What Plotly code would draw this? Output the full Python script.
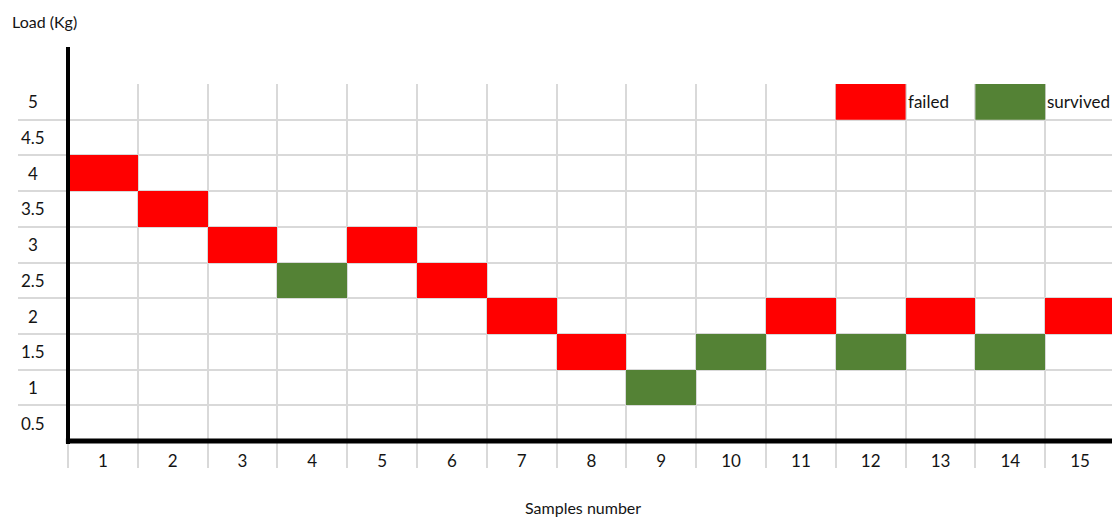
import plotly.graph_objects as go

# ---- data ----
SAMPLES = list(range(1, 16))
LOADS = [4, 3.5, 3, 2.5, 3, 2.5, 2, 1.5, 1, 1.5, 2, 1.5, 2, 1.5, 2]
OUTCOME = ["failed", "failed", "failed", "survived", "failed", "failed", "failed",
           "failed", "survived", "survived", "failed", "survived", "failed",
           "survived", "failed"]
Y_TICKS = [0.5, 1, 1.5, 2, 2.5, 3, 3.5, 4, 4.5, 5]
Y_TICK_TEXT = ["0.5", "1", "1.5", "2", "2.5", "3", "3.5", "4", "4.5", "5"]
X_TICK_TEXT = [str(s) for s in SAMPLES]
CATEGORIES = ["failed", "survived"]

# ---- style ----
COLORS = {"failed": "#FF0000", "survived": "#548235"}
GRID = "#D9D9D9"
TXT = "#141414"
FONT = "Lato, Open Sans, sans-serif"
FS = 17
FS_TITLE = 16
STEP = Y_TICKS[1] - Y_TICKS[0]
LEGEND_ROW = 5
LEGEND_COL = {"failed": 12, "survived": 14}

W, H = 1112, 523
ML, MR, MT, MB = 18, 0, 84, 82
COLW = 69.8
plot_w = W - ML - MR
x_lo = SAMPLES[0] - 0.5 - (68 - ML) / COLW
x_hi = x_lo + plot_w / COLW
y_lo = Y_TICKS[0] - STEP / 2
y_hi = Y_TICKS[-1] + STEP / 2
plot_h = H - MT - MB

fig = go.Figure()
for cat in CATEGORIES:
    xs = [s for s, o in zip(SAMPLES, OUTCOME) if o == cat]
    ys = [l for l, o in zip(LOADS, OUTCOME) if o == cat]
    fig.add_trace(go.Bar(
        x=xs, y=[STEP] * len(xs), base=[v - STEP / 2 for v in ys],
        width=1, name=cat, marker=dict(color=COLORS[cat], line=dict(width=0)),
        showlegend=False,
    ))

shapes = []
annotations = []
# legend boxes + text
for cat in CATEGORIES:
    c = LEGEND_COL[cat]
    shapes.append(dict(type="rect", xref="x", yref="y", x0=c - 0.5, x1=c + 0.5,
                       y0=LEGEND_ROW - STEP / 2, y1=LEGEND_ROW + STEP / 2,
                       fillcolor=COLORS[cat], line=dict(width=0), layer="above"))
    annotations.append(dict(xref="x", yref="y", x=c + 0.5, y=LEGEND_ROW, text=cat,
                            xanchor="left", yanchor="middle", showarrow=False,
                            xshift=0, font=dict(size=FS, color=TXT, family=FONT)))
# axis lines
x0_axis = SAMPLES[0] - 0.5
shapes.append(dict(type="line", xref="x", yref="paper", x0=x0_axis, x1=x0_axis,
                   y0=-3 / plot_h, y1=1 + 37 / plot_h, line=dict(color="black", width=4)))
shapes.append(dict(type="line", xref="x", yref="paper", x0=x0_axis - 0.03, x1=x_hi,
                   y0=0, y1=0, line=dict(color="black", width=5)))
# y tick labels
for v, t in zip(Y_TICKS, Y_TICK_TEXT):
    annotations.append(dict(xref="x", yref="y", x=x0_axis - 35 / COLW, y=v, text=t,
                            showarrow=False, xanchor="center", yanchor="middle",
                            font=dict(size=FS, color=TXT, family=FONT)))
# titles
annotations.append(dict(xref="paper", yref="paper", x=(10 - ML) / plot_w,
                        y=1 + (MT - 22) / plot_h, text="Load (Kg)", showarrow=False,
                        xanchor="left", yanchor="middle",
                        font=dict(size=FS_TITLE, color=TXT, family=FONT)))
annotations.append(dict(xref="paper", yref="paper", x=(583 - ML) / plot_w,
                        y=-(507 - (H - MB)) / plot_h, text="Samples number",
                        showarrow=False, xanchor="center", yanchor="middle",
                        font=dict(size=FS_TITLE, color=TXT, family=FONT)))

grid_y = [v + STEP / 2 for v in Y_TICKS]
bounds_x = [s - 0.5 for s in SAMPLES] + [SAMPLES[-1] + 0.5]

fig.update_layout(
    width=W, height=H, margin=dict(l=ML, r=MR, t=MT, b=MB),
    paper_bgcolor="white", plot_bgcolor="white", barmode="overlay",
    bargap=0, shapes=shapes, annotations=annotations,
    font=dict(family=FONT, size=FS, color=TXT),
    xaxis=dict(range=[x_lo, x_hi], tickmode="array", tickvals=SAMPLES,
               ticktext=X_TICK_TEXT, ticks="", showgrid=False, zeroline=False,
               showline=False, ticklabelstandoff=8,
               tickfont=dict(size=FS, color=TXT, family=FONT),
               minor=dict(tickmode="array", tickvals=bounds_x, ticks="outside",
                          ticklen=26, tickwidth=1.5, tickcolor=GRID,
                          showgrid=True, gridcolor=GRID, gridwidth=1.5)),
    yaxis=dict(range=[y_lo, y_hi], tickmode="array", tickvals=grid_y,
               showticklabels=False, ticks="", showgrid=True, gridcolor=GRID,
               gridwidth=1.5, zeroline=False, showline=False),
)

fig.write_html("out.html", config={"displayModeBar": False},
               post_script="document.body.style.margin='0';")
